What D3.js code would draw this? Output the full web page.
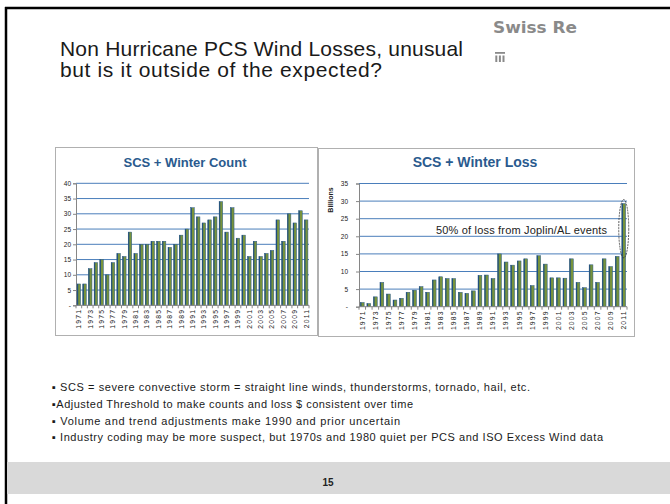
<!DOCTYPE html>
<html>
<head>
<meta charset="utf-8">
<script src="https://cdn.jsdelivr.net/npm/d3@7"></script>
<style>
  body { margin: 0; background: #fff; }
</style>
</head>
<body>
<div id="vis"></div>
<script>
const years = [1971, 1972, 1973, 1974, 1975, 1976, 1977, 1978, 1979, 1980,
  1981, 1982, 1983, 1984, 1985, 1986, 1987, 1988, 1989, 1990,
  1991, 1992, 1993, 1994, 1995, 1996, 1997, 1998, 1999, 2000,
  2001, 2002, 2003, 2004, 2005, 2006, 2007, 2008, 2009, 2010, 2011];
const yearLabels = [1971, 1973, 1975, 1977, 1979, 1981, 1983, 1985, 1987, 1989, 1991,
  1993, 1995, 1997, 1999, 2001, 2003, 2005, 2007, 2009, 2011];

// SCS + Winter Count
const countValues = [7, 7, 12, 14, 15, 10, 14, 17, 16, 24,
  17, 20, 20, 21, 21, 21, 19, 20, 23, 25,
  32, 29, 27, 28, 29, 34, 24, 32, 22, 23,
  16, 21, 16, 17, 18, 28, 21, 30, 27, 31, 28];
const countTicks = [0, 5, 10, 15, 20, 25, 30, 35, 40];

// SCS + Winter Loss (billions)
const lossValues = [1.2, 0.9, 2.8, 6.9, 3.6, 1.9, 2.4, 4.1, 4.7, 5.7,
  4.1, 7.6, 8.5, 8.0, 8.0, 4.1, 3.8, 4.5, 8.9, 9.0,
  8.0, 15.0, 12.7, 11.8, 13.0, 13.6, 6.0, 14.5, 12.1, 8.2,
  8.2, 8.1, 13.6, 6.9, 5.4, 11.9, 6.9, 13.6, 11.4, 14.3, 29.3];
const lossTicks = [0, 5, 10, 15, 20, 25, 30, 35];

const titleLines = ["Non Hurricane PCS Wind Losses, unusual", "but is it outside of the expected?"];
const bullets = [
  "\u25AA SCS = severe convective storm = straight line winds, thunderstorms, tornado, hail, etc.",
  "\u25AAAdjusted Threshold to make counts and loss $ consistent over time",
  "\u25AA Volume and trend adjustments make 1990 and prior uncertain",
  "\u25AA Industry coding may be more suspect, but 1970s and 1980 quiet per PCS and ISO Excess Wind data"
];

const slideFont = '"Liberation Sans", Arial, sans-serif';
const chartFont = '"Liberation Sans Narrow", "Liberation Sans", sans-serif';

var svg = d3.select("#vis").append("svg")
  .attr("width", 670).attr("height", 504)
  .style("display", "block");

// slide frame
svg.append("line").attr("x1", 5).attr("x2", 670).attr("y1", 8).attr("y2", 8)
  .attr("stroke", "#000").attr("stroke-width", 2.5);
svg.append("line").attr("x1", 6).attr("x2", 6).attr("y1", 7).attr("y2", 504)
  .attr("stroke", "#000").attr("stroke-width", 2.5);

// footer band
svg.append("rect").attr("x", 7).attr("y", 462).attr("width", 663).attr("height", 32)
  .attr("fill", "#d9d9d9");
svg.append("text").attr("x", 328).attr("y", 486)
  .attr("text-anchor", "middle")
  .style("font-family", chartFont)
  .style("font-weight", "bold").style("font-size", "10px").attr("fill", "#222")
  .text("15");

// title
const titleWidths = [403, 322];
svg.append("g").selectAll("text").data(titleLines).join("text")
  .attr("x", 60).attr("y", (d, i) => 56 + i * 21)
  .attr("textLength", (d, i) => titleWidths[i]).attr("lengthAdjust", "spacing")
  .style("font-family", slideFont).style("font-size", "21px").attr("fill", "#1a1a1a")
  .text(d => d);

// Swiss Re logo
svg.append("text").attr("x", 493).attr("y", 33)
  .attr("textLength", 84).attr("lengthAdjust", "spacingAndGlyphs")
  .style("font-family", '"DejaVu Sans", sans-serif').style("font-weight", "bold").style("font-size", "15.5px")
  .attr("fill", "#8a8a8a")
  .text("Swiss Re");
var logo = svg.append("g").attr("fill", "#8a8a8a");
logo.append("rect").attr("x", 495).attr("y", 52).attr("width", 10).attr("height", 1.8);
[0, 1, 2].forEach(i => {
  logo.append("rect").attr("x", 495.3 + i * 3.6).attr("y", 55.5).attr("width", 2).attr("height", 6.5);
});

// bullets
const bulletWidths = [478, 361, 348, 551];
svg.append("g").selectAll("text").data(bullets).join("text")
  .attr("x", 52).attr("y", (d, i) => 391 + i * 16.8)
  .attr("textLength", (d, i) => bulletWidths[i]).attr("lengthAdjust", "spacing")
  .style("font-family", slideFont).style("font-size", "11px")
  .attr("fill", "#1a1a1a")
  .text(d => d);

function drawChart(opt) {
  var g = svg.append("g");
  g.append("rect")
    .attr("x", opt.box[0] + 0.5).attr("y", opt.box[1] + 0.5)
    .attr("width", opt.box[2] - opt.box[0]).attr("height", opt.box[3] - opt.box[1])
    .attr("fill", "#fff").attr("stroke", "#b0b0b0").attr("stroke-width", 1);

  var x = d3.scaleBand().domain(years).range([opt.left, opt.right]).paddingInner(opt.pad).paddingOuter(opt.pad / 2);
  var y = d3.scaleLinear().domain([0, d3.max(opt.ticks)]).range([opt.bottom, opt.top]);

  // gridlines
  g.append("g").selectAll("line").data(opt.ticks.filter(t => t > 0)).join("line")
    .attr("x1", opt.left).attr("x2", opt.right)
    .attr("y1", d => y(d)).attr("y2", d => y(d))
    .attr("stroke", "#4a7ebb").attr("stroke-width", 1);

  // y axis
  var yAxis = d3.axisLeft(y).tickValues(opt.ticks).tickSize(3).tickPadding(opt.labelPad)
    .tickFormat(d => d === 0 ? "-" : d);
  var ya = g.append("g").attr("transform", "translate(" + opt.left + ",0)").call(yAxis);
  ya.select(".domain").attr("stroke", "#868686");
  ya.selectAll(".tick line").attr("stroke", "#868686");
  ya.selectAll("text").style("font-family", slideFont).style("font-size", "6.5px").attr("fill", "#222");

  // bars: green body with a dark blue left edge
  var bars = g.append("g").selectAll("g").data(opt.values).join("g");
  bars.append("rect")
    .attr("x", (d, i) => x(years[i]))
    .attr("y", d => y(d))
    .attr("width", x.bandwidth())
    .attr("height", d => opt.bottom - y(d))
    .attr("fill", "#77933c")
    .attr("stroke", "#2b5a8c").attr("stroke-width", 0.5);
  bars.append("rect")
    .attr("x", (d, i) => x(years[i]))
    .attr("y", d => y(d))
    .attr("width", 1.1)
    .attr("height", d => opt.bottom - y(d))
    .attr("fill", "#1f4e80");

  // x axis line and ticks between categories
  g.append("line").attr("x1", opt.left).attr("x2", opt.right)
    .attr("y1", opt.bottom).attr("y2", opt.bottom)
    .attr("stroke", "#868686");
  var step = x.step();
  g.append("g").selectAll("line").data(years.concat([null])).join("line")
    .attr("x1", (d, i) => opt.left + i * step).attr("x2", (d, i) => opt.left + i * step)
    .attr("y1", opt.bottom).attr("y2", opt.bottom + 3)
    .attr("stroke", "#868686");

  // year labels
  g.append("g").selectAll("text").data(yearLabels).join("text")
    .attr("transform", d => "translate(" + (x(d) + x.bandwidth() / 2 + 2.4) + "," + (opt.bottom + 3.5) + ") rotate(-90)")
    .attr("text-anchor", "end")
    .attr("letter-spacing", "1.2")
    .style("font-family", slideFont).style("font-size", "6.8px").attr("fill", "#222")
    .text(d => d);

  // chart title
  g.append("text").attr("x", opt.titleX).attr("y", opt.titleY)
    .attr("text-anchor", "middle")
    .style("font-family", chartFont).style("font-weight", "bold").style("font-size", opt.titleSize)
    .attr("fill", "#2a5a8e")
    .text(opt.title);
  return { g: g, x: x, y: y };
}

drawChart({
  box: [55, 147, 317, 335], left: 76, right: 309, top: 183.3, bottom: 305.3,
  values: countValues, ticks: countTicks, pad: 0.38, labelPad: 2,
  title: "SCS + Winter Count", titleX: 185, titleY: 167, titleSize: "13px"
});

var loss = drawChart({
  box: [318, 148, 634, 336], left: 359, right: 627, top: 183.5, bottom: 306.7,
  values: lossValues, ticks: lossTicks, pad: 0.42, labelPad: 8,
  title: "SCS + Winter Loss", titleX: 475, titleY: 167, titleSize: "14px"
});

// Billions label
loss.g.append("text")
  .attr("transform", "translate(333,200) rotate(-90)")
  .attr("text-anchor", "middle")
  .style("font-family", slideFont).style("font-weight", "bold").style("font-size", "7px")
  .attr("fill", "#222")
  .text("Billions");

// annotation
loss.g.append("text").attr("x", 436).attr("y", 234)
  .attr("textLength", 171).attr("lengthAdjust", "spacing")
  .style("font-family", slideFont).style("font-size", "11px").attr("fill", "#222")
  .text("50% of loss from Joplin/AL events");

// ellipse round the 2011 bar
var cx = loss.x(2011) + loss.x.bandwidth() / 2;
loss.g.append("ellipse")
  .attr("cx", cx).attr("cy", (loss.y(29.3) + loss.y(15)) / 2)
  .attr("rx", 5).attr("ry", (loss.y(15) - loss.y(29.3)) / 2 + 4)
  .attr("fill", "none").attr("stroke", "#333").attr("stroke-width", 0.8)
  .attr("stroke-dasharray", "2,1");
</script>
</body>
</html>
